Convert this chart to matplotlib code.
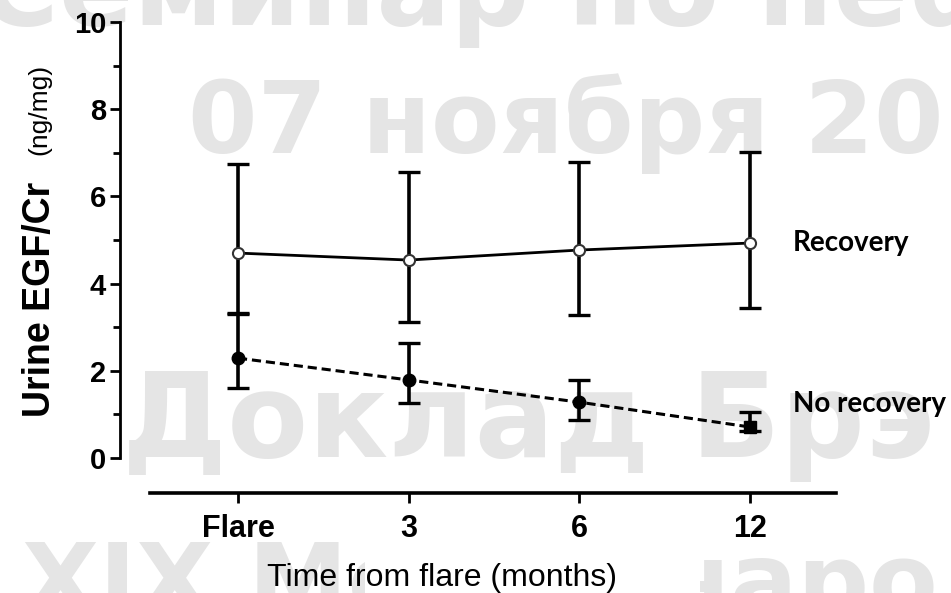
import matplotlib
matplotlib.use("Agg")
import matplotlib.pyplot as plt
from matplotlib.patches import Rectangle

# ---- data ----
categories = ["Flare", "3", "6", "12"]
rec_mean = [4.70, 4.54, 4.77, 4.93]
rec_upper = [6.75, 6.55, 6.79, 7.02]
rec_lower = [3.30, 3.12, 3.28, 3.44]
norec_mean = [2.29, 1.79, 1.28, 0.71]
norec_upper = [3.33, 2.64, 1.79, 1.06]
norec_lower = [1.61, 1.26, 0.87, 0.62]
y_ticks = [0, 2, 4, 6, 8, 10]
series_labels = ["Recovery", "No recovery"]
x_label = "Time from flare (months)"
y_label_main = "Urine EGF/Cr"
y_label_unit = "(ng/mg)"
watermark = ["Семинар по нефрологии", "07 ноября 20", "Доклад Брэ", "XIX Международный"]

plt.rcParams["font.family"] = ["Liberation Sans", "DejaVu Sans"]

W, H = 951, 593
fig = plt.figure(figsize=(W / 100, H / 100), dpi=100)
fig.patch.set_facecolor("white")

def fx(px):
    return px / W

def fy(py):
    return 1 - py / H

def pt(px):
    return px * 0.72

# ---- watermark ----
wm_col = "#e5e5e5"
wm_specs = [(-22, 25, 110), (188, 153, 100), (122, 457, 118), (22, 615, 100)]
for txt, (x0, yb, em) in zip(watermark, wm_specs):
    fig.text(fx(x0), fy(yb), txt, fontsize=pt(em), fontweight="bold", color=wm_col,
             family=["DejaVu Sans"], ha="left", va="baseline", zorder=-2)
fig.patches.append(Rectangle((fx(365), 0), fx(700) - fx(365), fy(525), transform=fig.transFigure,
                             facecolor="white", edgecolor="none", zorder=-1))

# ---- axes ----
ax = fig.add_axes([fx(120), fy(493), fx(835.5) - fx(120), fy(22) - fy(493)])
ax.patch.set_alpha(0)
x = list(range(len(categories)))

ax.errorbar(x, rec_mean,
            yerr=[[m - l for m, l in zip(rec_mean, rec_lower)], [u - m for m, u in zip(rec_mean, rec_upper)]],
            fmt="none", ecolor="black", elinewidth=2.6, capsize=8, capthick=2.4, zorder=2)
ax.errorbar(x, norec_mean,
            yerr=[[m - l for m, l in zip(norec_mean, norec_lower)], [u - m for m, u in zip(norec_mean, norec_upper)]],
            fmt="none", ecolor="black", elinewidth=2.6, capsize=8, capthick=2.4, zorder=2)
ax.plot(x, rec_mean, color="black", lw=2.0, ls="-", zorder=3)
ax.plot(x, rec_mean, ls="none", marker="o", ms=8, mfc="white", mec="#333333", mew=1.5, zorder=4)
ax.plot(x, norec_mean, color="black", lw=2.2, ls=(0, (3.0, 1.6)), zorder=3)
ax.plot(x[:-1], norec_mean[:-1], ls="none", marker="o", ms=9, mfc="black", mec="black", zorder=4)
ax.plot(x[-1:], norec_mean[-1:], ls="none", marker="s", ms=8, mfc="black", mec="black", zorder=4)

ax.set_xlim(-0.691, 3.5)
ax.set_ylim(-0.803, 10)
for s in ["top", "right"]:
    ax.spines[s].set_visible(False)
ax.spines["left"].set_bounds(0, 10)
ax.spines["bottom"].set_bounds(-0.515, 3.5)
ax.spines["left"].set_linewidth(2.0)
ax.spines["bottom"].set_linewidth(2.6)

ax.set_yticks(y_ticks)
ax.set_yticks([1, 3, 5, 7, 9], minor=True)
ax.set_xticks(x)
ax.set_xticklabels(categories)
ax.tick_params(axis="y", which="major", length=7, width=2, labelsize=21, pad=3)
ax.tick_params(axis="y", which="minor", length=5, width=2)
ax.tick_params(axis="x", which="major", length=7, width=2, labelsize=22, pad=8)
for lab in ax.get_xticklabels() + ax.get_yticklabels():
    lab.set_fontweight("bold")

# axis labels
fig.text(fx(442), fy(586), x_label, fontsize=pt(32), ha="center", va="baseline")
fig.text(fx(50), fy(417), y_label_main, rotation=90, fontsize=27, fontweight="bold",
         ha="left", va="baseline", rotation_mode="anchor")
fig.text(fx(46), fy(155), y_label_unit, rotation=90, fontsize=19,
         ha="left", va="baseline", rotation_mode="anchor")

# series labels
ax.annotate(series_labels[0], xy=(x[-1], rec_mean[-1]), xycoords="data",
            xytext=(fx(793), fy(243)), textcoords="figure fraction",
            fontsize=20, fontweight="bold", family=["Lato", "DejaVu Sans"], va="center", ha="left")
ax.annotate(series_labels[1], xy=(x[-1], norec_mean[-1]), xycoords="data",
            xytext=(fx(793), fy(404)), textcoords="figure fraction",
            fontsize=20, fontweight="bold", family=["Lato", "DejaVu Sans"], va="center", ha="left")

fig.savefig("out.png", dpi=100)
